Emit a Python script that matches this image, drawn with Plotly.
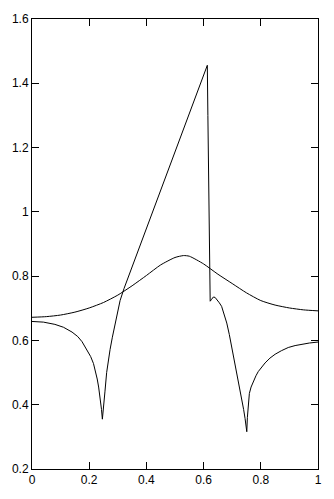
import plotly.graph_objects as go

# Smooth bell-shaped curve
bell_x = [0.00, 0.05, 0.10, 0.15, 0.20, 0.25, 0.30, 0.35, 0.40, 0.45, 0.50, 0.53, 0.55,
          0.60, 0.65, 0.70, 0.75, 0.80, 0.85, 0.90, 0.95, 1.00]
bell_y = [0.672, 0.674, 0.679, 0.688, 0.701, 0.718, 0.741, 0.770, 0.802, 0.835, 0.858, 0.864, 0.862,
          0.838, 0.806, 0.777, 0.748, 0.724, 0.710, 0.701, 0.695, 0.692]

# Curve with two cusps and a jump
cusp_x = [0.000, 0.040, 0.080, 0.110, 0.140, 0.160, 0.175, 0.190, 0.205, 0.215, 0.222, 0.228, 0.233,
          0.237, 0.240, 0.243, 0.246,
          0.248, 0.251, 0.255, 0.261, 0.267, 0.273, 0.281, 0.290, 0.299, 0.308, 0.322,
          0.368, 0.413, 0.459, 0.503, 0.547, 0.585, 0.613,
          0.615, 0.619, 0.623, 0.628, 0.634, 0.640, 0.648, 0.655, 0.663, 0.672, 0.681, 0.690, 0.698,
          0.707, 0.716, 0.725, 0.733, 0.740, 0.745, 0.749, 0.751,
          0.753, 0.756, 0.760, 0.766, 0.774, 0.783, 0.791, 0.803, 0.815, 0.832, 0.850, 0.872, 0.896,
          0.920, 0.943, 0.970, 1.000]
cusp_y = [0.659, 0.657, 0.650, 0.641, 0.626, 0.612, 0.596, 0.575, 0.550, 0.528, 0.505, 0.480, 0.455,
          0.430, 0.410, 0.385, 0.355,
          0.370, 0.400, 0.440, 0.500, 0.540, 0.572, 0.610, 0.652, 0.690, 0.724, 0.762,
          0.871, 0.978, 1.088, 1.193, 1.298, 1.389, 1.456,
          1.300, 1.000, 0.722, 0.728, 0.735, 0.734, 0.726, 0.717, 0.706, 0.683, 0.654, 0.618, 0.582,
          0.542, 0.501, 0.460, 0.418, 0.385, 0.357, 0.330, 0.316,
          0.360, 0.405, 0.435, 0.455, 0.473, 0.490, 0.503, 0.518, 0.530, 0.545, 0.557, 0.568, 0.578,
          0.584, 0.588, 0.592, 0.595]

x_ticks = [0, 0.2, 0.4, 0.6, 0.8, 1]
x_labels = ["0", "0.2", "0.4", "0.6", "0.8", "1"]
y_ticks = [0.2, 0.4, 0.6, 0.8, 1.0, 1.2, 1.4, 1.6]
y_labels = ["0.2", "0.4", "0.6", "0.8", "1", "1.2", "1.4", "1.6"]

fig = go.Figure()
fig.add_trace(go.Scatter(x=bell_x, y=bell_y, mode="lines",
                         line=dict(color="black", width=1, shape="spline", smoothing=0.6),
                         showlegend=False, hoverinfo="skip"))
fig.add_trace(go.Scatter(x=cusp_x, y=cusp_y, mode="lines",
                         line=dict(color="black", width=1),
                         showlegend=False, hoverinfo="skip"))

axis_common = dict(showline=True, linecolor="black", linewidth=1, mirror="ticks",
                   ticks="inside", ticklen=7, tickcolor="black", tickwidth=1,
                   showgrid=False, zeroline=False,
                   tickfont=dict(family="Liberation Sans, Arial, sans-serif", size=12, color="black"))

fig.update_xaxes(range=[0, 1], tickvals=x_ticks, ticktext=x_labels, **axis_common)
fig.update_yaxes(range=[0.2, 1.6], tickvals=y_ticks, ticktext=y_labels, **axis_common)

fig.update_layout(width=334, height=499, margin=dict(l=32, r=16, t=16, b=28),
                  plot_bgcolor="white", paper_bgcolor="white")

fig.write_html("out.html")
